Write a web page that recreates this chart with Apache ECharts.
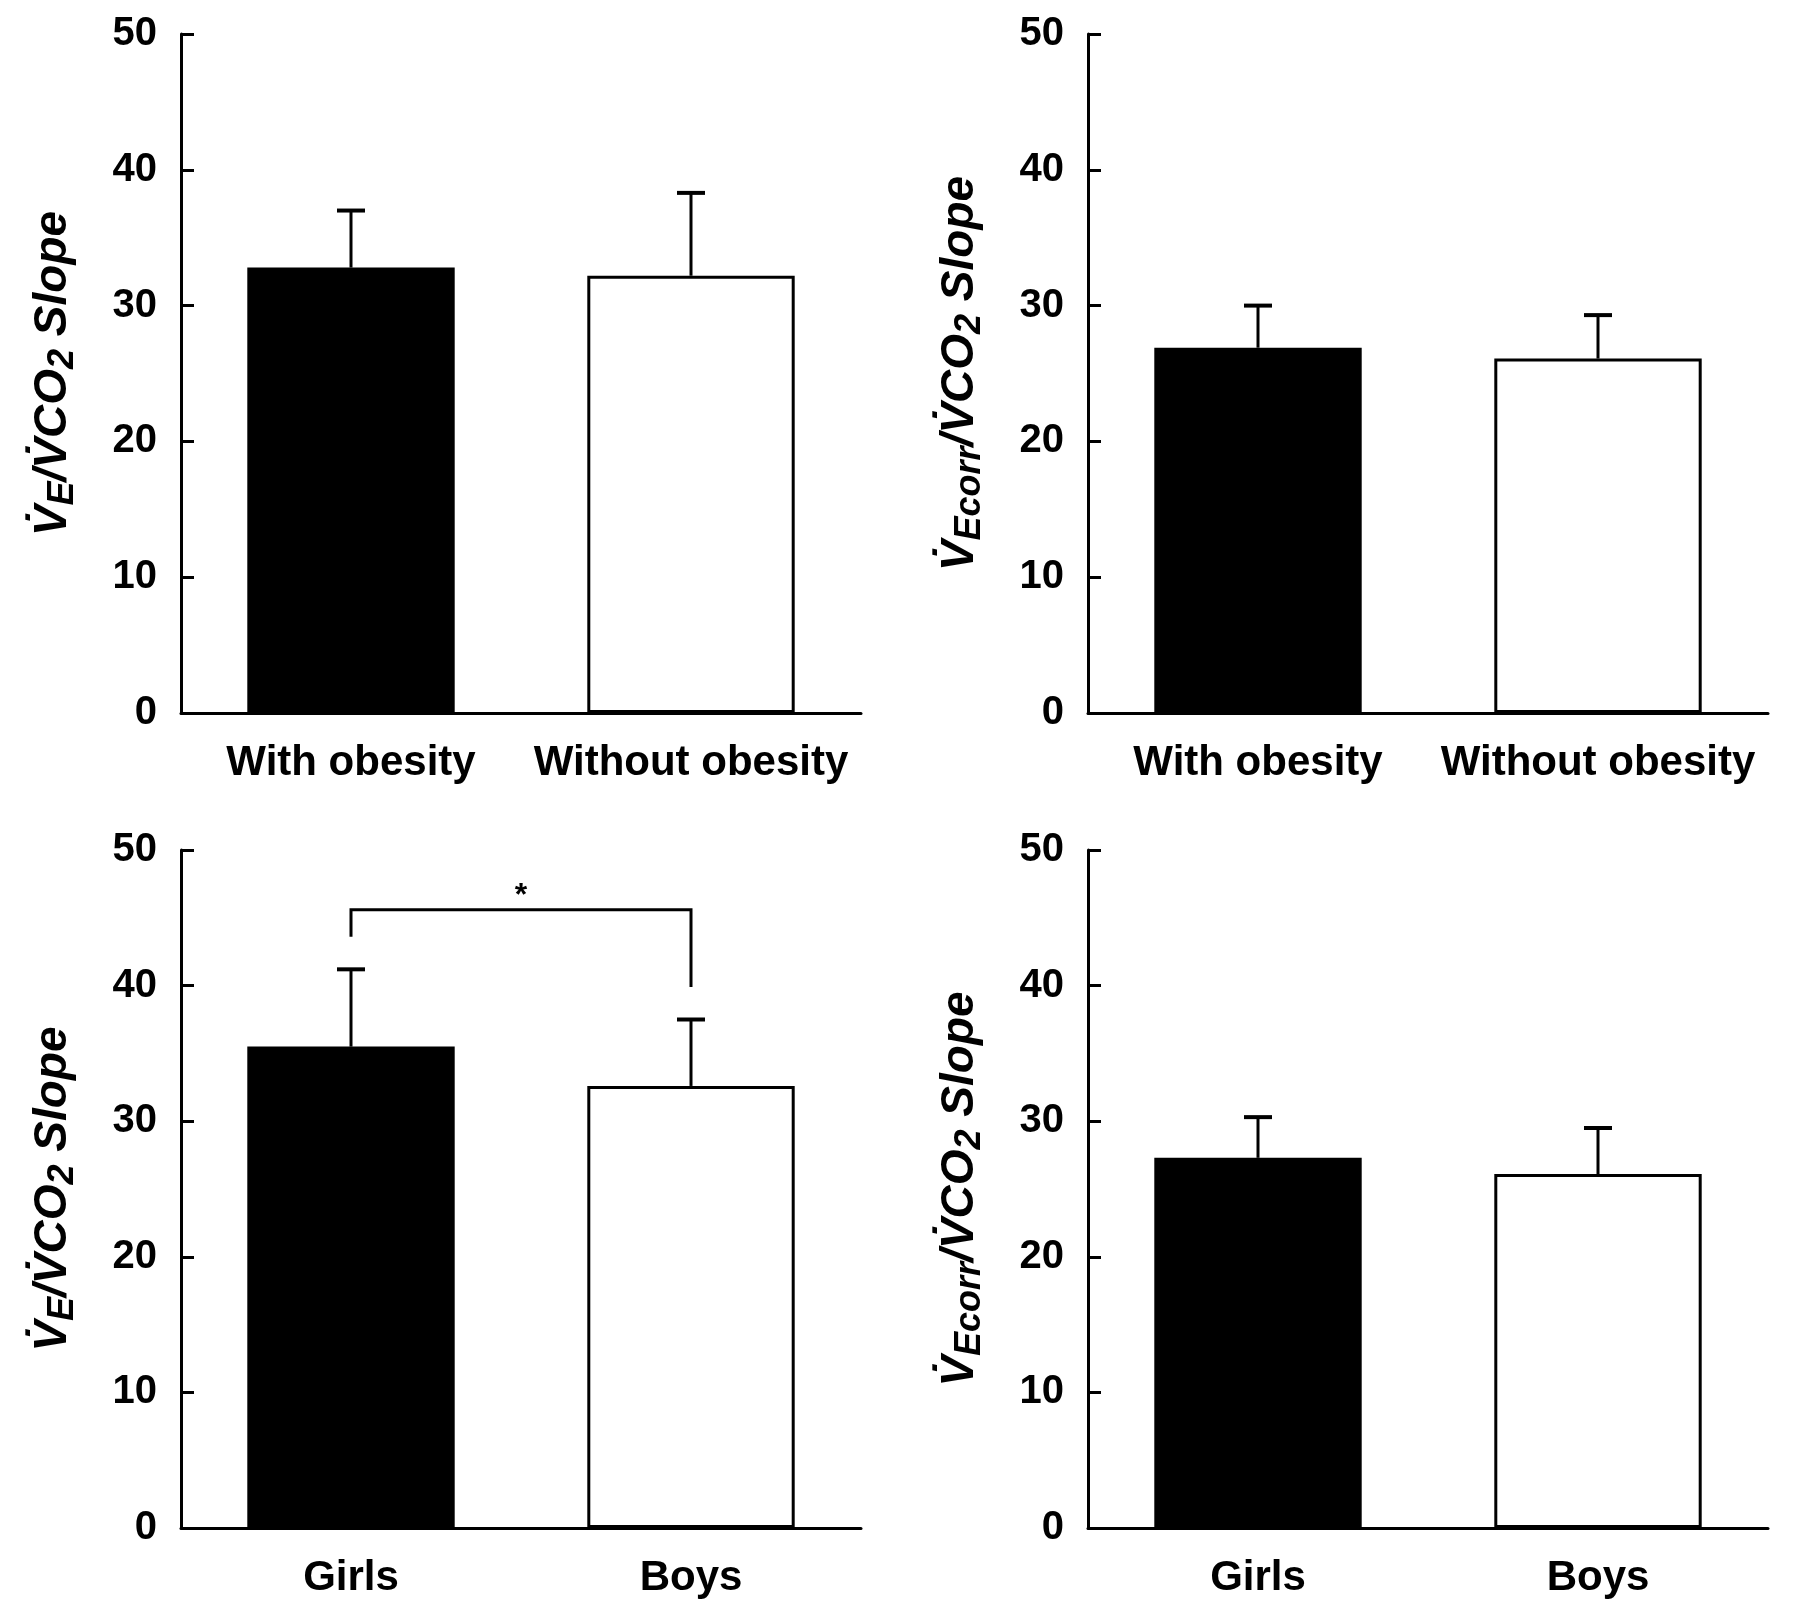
<!DOCTYPE html>
<html>
<head>
<meta charset="utf-8">
<script src="https://cdn.jsdelivr.net/npm/echarts@6/dist/echarts.min.js"></script>
<style>
html,body{margin:0;padding:0;background:#fff;}
#chart{width:1800px;height:1607px;}
</style>
</head>
<body>
<div id="chart"></div>
<script>
// ---- data ----
const catsObesity = ['With obesity', 'Without obesity'];
const catsSex = ['Girls', 'Boys'];

const tlMeans = [32.8, 32.2];
const tlErr   = [4.2, 6.1];
const trMeans = [26.9, 26.1];
const trErr   = [3.1, 3.2];
const blMeans = [35.5, 32.6];
const blErr   = [5.7, 4.9];
const brMeans = [27.3, 26.1];
const brErr   = [3.0, 3.4];

// significance bracket (bottom-left): [fromCat, toCat, leftLegEnd, barTop, rightLegEnd, starY]
const blBracket = [0, 1, 43.6, 45.6, 39.9, 46.6];
const blStar = '*';

const yMin = 0, yMax = 50, yStep = 10;

const nameVE = '{v|V\u0307}{s|E}{v|/V\u0307CO}{s|2}{v| Slope}';
const nameVEcorr = '{v|V\u0307}{s|Ecorr}{v|/V\u0307CO}{s|2}{v| Slope}';

// ---- chart ----
const FONT = 'Liberation Sans, Arial, sans-serif';
const chart = echarts.init(document.getElementById('chart'), null, {renderer: 'canvas'});

const grids = [
  {left: 181, top: 34, width: 680, height: 679},
  {left: 1088, top: 34, width: 680, height: 679},
  {left: 181, top: 850, width: 680, height: 678},
  {left: 1088, top: 850, width: 680, height: 678}
];

function xAxisFor(i, cats) {
  return {
    type: 'category', gridIndex: i, data: cats,
    axisLine: {lineStyle: {color: '#000', width: 3}},
    axisTick: {show: false},
    axisLabel: {color: '#000', fontSize: 42, fontWeight: 'bold', fontFamily: FONT, margin: 29, interval: 0}
  };
}
const richName = {
  v: {fontSize: 46, fontWeight: 'bold', fontStyle: 'italic', fontFamily: FONT, color: '#000', lineHeight: 56, verticalAlign: 'middle'},
  s: {fontSize: 36, fontWeight: 'bold', fontStyle: 'italic', fontFamily: FONT, color: '#000', lineHeight: 36, verticalAlign: 'bottom'}
};
function yAxisFor(i, name) {
  return {
    type: 'value', gridIndex: i, min: yMin, max: yMax, interval: yStep,
    name: name, nameLocation: 'middle', nameRotate: 90, nameGap: 100,
    nameTextStyle: {rich: richName},
    axisLine: {show: true, lineStyle: {color: '#000', width: 3}},
    axisTick: {show: true, inside: true, length: 13, lineStyle: {color: '#000', width: 3}},
    splitLine: {show: false},
    axisLabel: {color: '#000', fontSize: 40, fontWeight: 'bold', fontFamily: FONT, margin: 24}
  };
}
function barData(means) {
  return means.map((v, i) => ({
    value: v,
    itemStyle: i === 0 ? {color: '#000', borderColor: '#000', borderWidth: 3}
                       : {color: '#fff', borderColor: '#000', borderWidth: 3}
  }));
}
function errRender(params, api) {
  const x = api.value(0), m = api.value(1), e = api.value(2);
  const p0 = api.coord([x, m]);
  const p1 = api.coord([x, m + e]);
  const half = 14;
  return {
    type: 'group',
    children: [
      {type: 'line', shape: {x1: p0[0], y1: p0[1], x2: p1[0], y2: p1[1]}, style: {stroke: '#000', lineWidth: 3}},
      {type: 'line', shape: {x1: p1[0] - half, y1: p1[1], x2: p1[0] + half, y2: p1[1]}, style: {stroke: '#000', lineWidth: 4}}
    ]
  };
}
function seriesFor(i, means, errs) {
  return [
    {type: 'bar', xAxisIndex: i, yAxisIndex: i, data: barData(means), barWidth: '61%', silent: true, animation: false},
    {type: 'custom', xAxisIndex: i, yAxisIndex: i, data: means.map((m, k) => [k, m, errs[k]]),
     renderItem: errRender, encode: {x: 0, y: 1}, silent: true, animation: false, z: 5}
  ];
}
function bracketRender(params, api) {
  const a = api.value(0), b = api.value(1);
  const pLB = api.coord([a, api.value(2)]);
  const pLT = api.coord([a, api.value(3)]);
  const pRT = api.coord([b, api.value(3)]);
  const pRB = api.coord([b, api.value(4)]);
  const pS = api.coord([a, api.value(5)]);
  const midX = (pLT[0] + pRT[0]) / 2;
  return {
    type: 'group',
    children: [
      {type: 'polyline', shape: {points: [pLB, pLT, pRT, pRB]}, style: {stroke: '#000', lineWidth: 3, fill: null}},
      {type: 'text', style: {text: blStar, x: midX, y: pS[1], align: 'center', verticalAlign: 'middle',
        fontSize: 32, fontWeight: 'bold', fontFamily: FONT, fill: '#000'}}
    ]
  };
}

const option = {
  backgroundColor: '#fff',
  animation: false,
  grid: grids,
  xAxis: [xAxisFor(0, catsObesity), xAxisFor(1, catsObesity), xAxisFor(2, catsSex), xAxisFor(3, catsSex)],
  yAxis: [yAxisFor(0, nameVE), yAxisFor(1, nameVEcorr), yAxisFor(2, nameVE), yAxisFor(3, nameVEcorr)],
  series: [].concat(
    seriesFor(0, tlMeans, tlErr),
    seriesFor(1, trMeans, trErr),
    seriesFor(2, blMeans, blErr),
    seriesFor(3, brMeans, brErr),
    [{type: 'custom', xAxisIndex: 2, yAxisIndex: 2, data: [blBracket], renderItem: bracketRender,
      encode: {x: 0, y: 3}, silent: true, animation: false, z: 6}]
  )
};
chart.setOption(option);
</script>
</body>
</html>
